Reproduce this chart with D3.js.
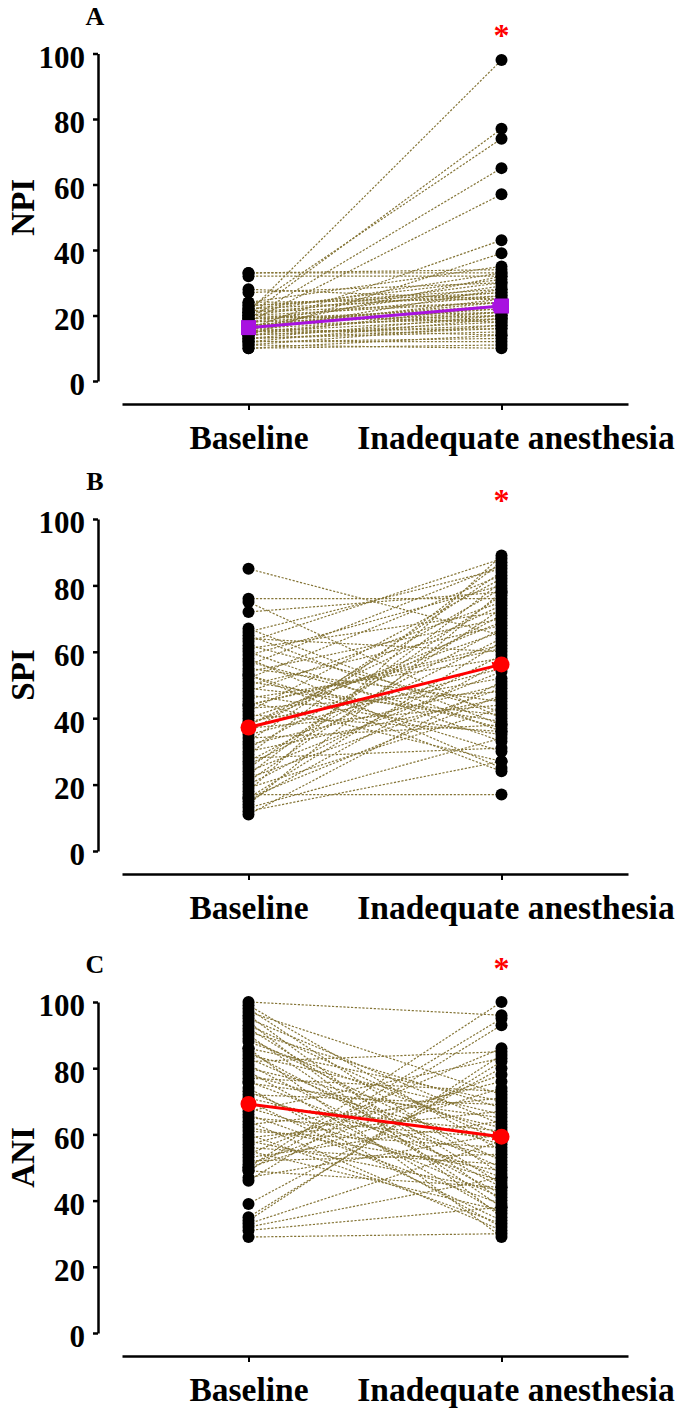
<!DOCTYPE html>
<html>
<head>
<meta charset="utf-8">
<script src="https://cdn.jsdelivr.net/npm/d3@7"></script>
<style>
  body { margin: 0; background: #fff; }
  svg text { font-family: "Liberation Serif", "Times New Roman", serif; font-weight: bold; }
</style>
</head>
<body>
<div id="chart"></div>
<script>
// paired values (one entry per patient)
var groups = ["Baseline", "Inadequate anesthesia"];
var yTicks = [0, 20, 40, 60, 80, 100];
var panelLetters = ["A", "B", "C"];
var yLabels = ["NPI", "SPI", "ANI"];

var npiBaseline   = [21, 20, 22, 19, 18, 16, 14, 33, 32, 33, 28, 27, 24, 23, 22, 21, 20, 19, 18, 17, 16, 15, 14, 13, 12, 11, 10, 12, 13, 14, 15, 16, 17, 18, 19, 20, 21, 22, 23, 24, 10, 11, 12, 13, 14, 15, 16, 17, 18, 19, 20, 21, 15, 16, 17];
var npiInadequate = [98, 77, 74, 65, 57, 43, 39, 33, 32, 34, 25, 30, 35, 28, 31, 27, 24, 26, 29, 22, 25, 21, 23, 20, 19, 17, 14, 13, 16, 18, 19, 20, 21, 23, 22, 18, 24, 26, 27, 25, 11, 10, 12, 15, 17, 16, 14, 19, 20, 21, 30, 33, 28, 32, 24];
var npiMean = [16.3, 22.9];

var spiBaseline   = [85, 76, 75, 72, 67, 66, 65, 64, 63, 62, 61, 60, 59, 57, 56, 55, 54, 53, 52, 51, 50, 49, 48, 47, 46, 45, 44, 43, 42, 41, 40, 39, 38, 37, 36, 35, 34, 33, 32, 31, 30, 29, 26, 25, 24, 23, 22, 21, 20, 19, 18, 17, 16, 15, 14, 13, 12, 11, 28, 27, 58, 53, 44, 38, 16];
var spiInadequate = [65, 76, 40, 78, 38, 85, 36, 60, 88, 42, 72, 33, 80, 37, 86, 45, 70, 30, 83, 39, 68, 41, 75, 35, 58, 27, 62, 48, 82, 36, 66, 52, 74, 44, 79, 55, 38, 84, 50, 71, 46, 87, 64, 77, 54, 81, 49, 73, 59, 43, 89, 17, 63, 57, 78, 34, 27, 51, 31, 67, 25, 24, 61, 69, 47];
var spiMean = [37.2, 56.2];

var aniBaseline   = [100, 99, 98, 97, 96, 95, 94, 93, 92, 91, 90, 89, 88, 86, 85, 84, 83, 82, 81, 80, 79, 78, 77, 76, 75.5, 73, 72, 71, 70, 69, 68, 67, 66, 65, 64, 63, 62, 61, 60, 59, 58, 57, 56, 55, 53, 52, 50, 49, 47, 46, 39, 35, 34, 33, 32, 31, 29, 50, 86, 74, 54, 51, 49];
var aniInadequate = [96, 55, 48, 72, 40, 63, 35, 58, 45, 68, 38, 52, 60, 70, 44, 66, 50, 85, 42, 62, 36, 57, 73, 47, 65, 41, 69, 53, 34, 61, 46, 83, 39, 59, 31, 71, 49, 56, 33, 67, 43, 76, 51, 37, 64, 54, 74, 44, 60, 93, 80, 82, 84, 58, 47, 38, 30, 100, 29, 32, 86, 78, 95];
var aniMean = [69.2, 59.3];

var panels = [
  {base: npiBaseline, inad: npiInadequate, mean: npiMean, color: "#a812e0", square: true},
  {base: spiBaseline, inad: spiInadequate, mean: spiMean, color: "#ff0000", square: false},
  {base: aniBaseline, inad: aniInadequate, mean: aniMean, color: "#ff0000", square: false}
];

// layout
var width = 685, height = 1410;
var axisX = 98;
var panelTop = [53.5, 519, 1002],
    panelBottom = [381, 851, 1333],
    starOffset = [22, 22, 37];

var svg = d3.select("#chart").append("svg")
    .attr("width", width)
    .attr("height", height);

var defs = svg.append("defs");

var x = d3.scalePoint().domain(groups).range([122, 628]).padding(0.5);

panels.forEach(function(p, k) {

  var y = d3.scaleLinear().domain([0, 100]).range([panelBottom[k], panelTop[k]]);
  var g = svg.append("g");

  // arrowhead for the mean line
  defs.append("marker")
      .attr("id", "arrow" + k)
      .attr("viewBox", "0 0 10 10")
      .attr("refX", 9)
      .attr("refY", 5)
      .attr("markerUnits", "userSpaceOnUse")
      .attr("markerWidth", 11)
      .attr("markerHeight", 10)
      .attr("orient", "auto")
    .append("path")
      .attr("d", "M0,0L10,5L0,10Z")
      .attr("fill", p.color);

  // y axis
  var yAxis = d3.axisLeft(y).tickValues(yTicks).tickSize(5).tickSizeOuter(0).tickPadding(8);
  var gy = g.append("g")
      .attr("transform", "translate(" + axisX + ",0)")
      .call(yAxis);
  gy.select(".domain").attr("stroke", "#000").attr("stroke-width", 2.5);
  gy.selectAll(".tick line").attr("stroke", "#000").attr("stroke-width", 2.5);
  gy.selectAll(".tick text")
      .attr("font-size", 31)
      .attr("font-family", null)
      .attr("fill", "#000")
      .attr("dy", "0.45em");

  // x axis
  var xAxis = d3.axisBottom(x).tickSize(6).tickSizeOuter(0).tickPadding(0);
  var gx = g.append("g")
      .attr("transform", "translate(0," + (panelBottom[k] + 23) + ")")
      .call(xAxis);
  gx.select(".domain").attr("stroke", "#000").attr("stroke-width", 2.5);
  gx.selectAll(".tick line").attr("stroke", "#000").attr("stroke-width", 2);
  gx.selectAll(".tick text")
      .attr("font-size", 33.5)
      .attr("font-family", null)
      .attr("fill", "#000")
      .attr("y", 45)
      .attr("dy", 0)
      .attr("dx", function(d, i) { return i ? 14 : 0; });

  // y label
  g.append("text")
      .attr("transform", "translate(34," + ((panelTop[k] + panelBottom[k]) / 2 - 10) + ") rotate(-90)")
      .attr("text-anchor", "middle")
      .attr("font-size", 33)
      .text(yLabels[k]);

  // panel letter
  g.append("text")
      .attr("x", 95)
      .attr("y", panelTop[k] - 29)
      .attr("text-anchor", "middle")
      .attr("font-size", 26)
      .text(panelLetters[k]);

  // significance star
  g.append("text")
      .attr("x", x(groups[1]))
      .attr("y", panelTop[k] - starOffset[k] + 14)
      .attr("text-anchor", "middle")
      .attr("font-size", 32)
      .attr("fill", "#ff0000")
      .text("*");

  var pairs = p.base.map(function(v, i) { return [v, p.inad[i]]; });

  // individual patient lines
  g.append("g").selectAll("line")
      .data(pairs)
    .enter().append("line")
      .attr("x1", x(groups[0]))
      .attr("x2", x(groups[1]))
      .attr("y1", function(d) { return y(d[0]); })
      .attr("y2", function(d) { return y(d[1]); })
      .attr("stroke", "#857537")
      .attr("stroke-width", 1.2)
      .attr("stroke-dasharray", "2.2,1.6");

  // dots
  var dots = g.append("g");
  dots.selectAll(".b")
      .data(p.base)
    .enter().append("circle")
      .attr("cx", x(groups[0]))
      .attr("cy", function(d) { return y(d); })
      .attr("r", 6)
      .attr("fill", "#000");
  dots.selectAll(".i")
      .data(p.inad)
    .enter().append("circle")
      .attr("cx", x(groups[1]))
      .attr("cy", function(d) { return y(d); })
      .attr("r", 6)
      .attr("fill", "#000");

  // mean line
  g.append("line")
      .attr("x1", x(groups[0]))
      .attr("x2", x(groups[1]))
      .attr("y1", y(p.mean[0]))
      .attr("y2", y(p.mean[1]))
      .attr("stroke", p.color)
      .attr("stroke-width", 3)
      .attr("marker-end", "url(#arrow" + k + ")");

  if (p.square) {
    g.selectAll(".m")
        .data(p.mean)
      .enter().append("rect")
        .attr("x", function(d, i) { return x(groups[i]) - 7.5; })
        .attr("y", function(d) { return y(d) - 7.5; })
        .attr("width", 15)
        .attr("height", 15)
        .attr("fill", p.color);
  } else {
    g.selectAll(".m")
        .data(p.mean)
      .enter().append("circle")
        .attr("cx", function(d, i) { return x(groups[i]); })
        .attr("cy", function(d) { return y(d); })
        .attr("r", 8)
        .attr("fill", p.color);
  }
});
</script>
</body>
</html>
